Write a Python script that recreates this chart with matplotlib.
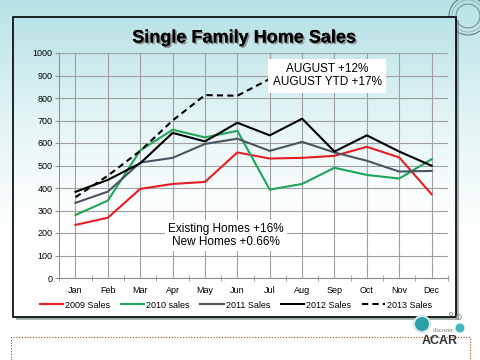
import numpy as np
import matplotlib
matplotlib.use("Agg")
from matplotlib import pyplot as plt
from matplotlib import patheffects as pe
from matplotlib.patches import Rectangle, Circle
from matplotlib.colors import LinearSegmentedColormap

plt.rcParams['font.family'] = ['Liberation Sans', 'DejaVu Sans']

months = ["Jan", "Feb", "Mar", "Apr", "May", "Jun", "Jul", "Aug", "Sep", "Oct", "Nov", "Dec"]
sales_2009 = [236, 268, 396, 418, 427, 558, 531, 534, 543, 583, 536, 372]
sales_2010 = [280, 344, 567, 659, 625, 654, 393, 418, 490, 458, 442, 528]
sales_2011 = [334, 384, 513, 534, 596, 619, 565, 605, 558, 521, 473, 476]
sales_2012 = [383, 436, 510, 645, 607, 690, 634, 708, 562, 634, 562, 499]
sales_2013 = [359, 455, 565, 700, 813, 810, 885, 820]

fig = plt.figure(figsize=(4.8, 3.6), dpi=100)

# slide background in pixel coordinates (y down)
bg = fig.add_axes([0, 0, 1, 1], zorder=-10)
cmap = LinearSegmentedColormap.from_list("bg", ["#b9e2e6", "#e3f4f5", "#ffffff", "#ffffff"])
grad = np.linspace(0, 1, 256).reshape(-1, 1)
bg.imshow(grad, aspect="auto", cmap=cmap, extent=[0, 480, 360, 0], zorder=0)
bg.imshow(grad, aspect="auto", cmap=cmap, extent=[13, 456, 317, 17], zorder=2)
bg.set_xlim(0, 480)
bg.set_ylim(360, 0)
bg.axis("off")

# panel shadow and border
bg.add_patch(Rectangle((16, 20), 443, 300, facecolor="#6f8082", edgecolor="none",
                       alpha=0.6, zorder=1))
bg.add_patch(Rectangle((13, 17), 443, 300, facecolor="none", edgecolor="black",
                       lw=1.2, zorder=3))

# decorative circles top right
for r, c in [(19, "#5f7f85"), (16, "#9ab8bc"), (12, "#6f8f94")]:
    bg.add_patch(Circle((468, 16), r, facecolor="none", edgecolor=c, lw=0.8, zorder=1))

# dotted footer frame
bg.plot([11, 11, 470, 470], [360, 337, 337, 360], color="#8b4a2b", lw=0.8,
        ls=(0, (1, 1.5)), zorder=1)

# logo
bg.add_patch(Circle((422, 324), 8, facecolor="#2a9fa8", edgecolor="#d3e6e8", lw=1.5, zorder=4))
bg.add_patch(Circle((460, 328), 4.5, facecolor="#3bb8c0", edgecolor="none", zorder=4))
bg.add_patch(Circle((459, 317), 2.5, facecolor="none", edgecolor="#888888", lw=0.6, zorder=4))
bg.add_patch(Circle((451, 314), 1.5, facecolor="none", edgecolor="#888888", lw=0.6, zorder=4))
bg.text(443, 331, "discover", fontsize=4, color="#777777", ha="center", va="center", zorder=5)
bg.text(440, 341, "ACAR", fontsize=9, fontweight="bold", color="#333333",
        ha="center", va="center", zorder=5)

fig.text(244 / 480, 1 - 38 / 360, "Single Family Home Sales", fontsize=13, fontweight="bold",
         ha="center", va="center", zorder=5,
         path_effects=[pe.withSimplePatchShadow(offset=(1.2, -1.2), shadow_rgbFace="#777777", alpha=0.8),
                       pe.Normal()])

ax = fig.add_axes([59.3 / 480, 1 - 278 / 360, 388.5 / 480, 225 / 360])
ax.set_facecolor("none")
x = np.arange(len(months))

ax.plot(x, sales_2009, color="#e31e24", lw=1.5, label="2009 Sales", zorder=3)
ax.plot(x, sales_2010, color="#1fa55a", lw=1.5, label="2010 sales", zorder=3)
ax.plot(x, sales_2011, color="#4a5560", lw=1.5, label="2011 Sales", zorder=3)
ax.plot(x, sales_2012, color="black", lw=1.5, label="2012 Sales", zorder=3)
ax.plot(x[:len(sales_2013)], sales_2013, color="black", lw=1.5, ls=(0, (3, 2)),
        label="2013 Sales", zorder=3)

ax.set_xlim(-0.5, 11.5)
ax.set_ylim(0, 1000)
ax.set_yticks(np.arange(0, 1001, 100))
ax.set_xticks(x, months)
ax.set_xticks(np.arange(-0.5, 12, 1), minor=True)
ax.grid(True, which="major", color="#a0a0a0", lw=0.8, zorder=1)
ax.tick_params(axis="x", which="major", length=0, pad=6, labelsize=6.5)
ax.tick_params(axis="x", which="minor", length=4, direction="inout", color="#909090")
ax.tick_params(axis="y", length=3, color="#909090", labelsize=6.5, pad=2)
for s in ["top", "right"]:
    ax.spines[s].set_visible(False)
for s in ["left", "bottom"]:
    ax.spines[s].set_color("#909090")

ax.text(7.77, 898, "AUGUST +12%\nAUGUST YTD +17%", fontsize=8.5, ha="center", va="center",
        linespacing=1.1, zorder=10,
        bbox=dict(boxstyle="square,pad=0.35", facecolor="white", edgecolor="none"))
ax.text(4.65, 189, "Existing Homes +16%\nNew Homes +0.66%", fontsize=8.5, ha="center", va="center",
        linespacing=1.1, zorder=10,
        bbox=dict(boxstyle="square,pad=0.25", facecolor="white", edgecolor="none"))

fig.legend(loc="center", bbox_to_anchor=(236 / 480, 1 - 305 / 360), ncol=5, fontsize=6.5,
           frameon=False, handlelength=2.6, handletextpad=0.2, columnspacing=1.2)

fig.savefig("out.png", dpi=100)
